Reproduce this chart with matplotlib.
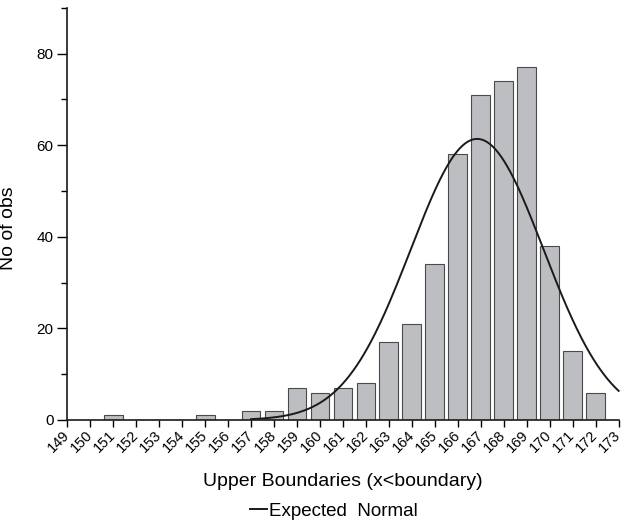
import numpy as np
import matplotlib
matplotlib.use("Agg")
import matplotlib.pyplot as plt
from matplotlib.ticker import MultipleLocator
from matplotlib.transforms import ScaledTranslation

plt.rcParams['font.family'] = ['Liberation Sans', 'DejaVu Sans']

# histogram: upper boundaries and counts
boundaries = [151, 155, 157, 158, 159, 160, 161, 162, 163, 164, 165,
              166, 167, 168, 169, 170, 171, 172]
counts = [1, 1, 2, 2, 7, 6, 7, 8, 17, 21, 34, 58, 71, 74, 77, 38, 15, 6]
tick_labels = list(range(149, 174))

# expected normal from the observed data
b = np.array(boundaries, dtype=float)
c = np.array(counts, dtype=float)
n = c.sum()
mu = (b * c).sum() / n
sd = np.sqrt((c * (b - mu) ** 2).sum() / (n - 1))
xs = np.linspace(157, 173, 300)
ys = n * np.exp(-0.5 * ((xs - mu) / sd) ** 2) / (sd * np.sqrt(2 * np.pi))

fig = plt.figure(figsize=(6.23, 5.24), dpi=100)
ax = fig.add_axes([0.108, 0.1985, 0.885, 0.7865])

ax.bar(boundaries, counts, width=0.82, color='#bdbec2', edgecolor='#4a4a4a',
       linewidth=0.8, zorder=2)
line, = ax.plot(xs, ys, color='#1a1a1a', lw=1.4, zorder=3, clip_on=False)

ax.set_xlim(149, 173)
ax.set_ylim(0, 90)
ax.set_xticks(tick_labels)
ax.set_xticklabels([str(t) for t in tick_labels], rotation=45, ha='right',
                   va='center', rotation_mode='anchor', fontsize=10.5)
# nudge rotated labels a bit left so the last one stays inside
shift = ScaledTranslation(-4.5 / 100, 0, fig.dpi_scale_trans)
for lab in ax.get_xticklabels():
    lab.set_transform(lab.get_transform() + shift)

ax.yaxis.set_major_locator(MultipleLocator(20))
ax.yaxis.set_minor_locator(MultipleLocator(10))
ax.set_yticks([0, 20, 40, 60, 80])
ax.tick_params(axis='y', which='major', length=7, width=1, labelsize=11,
               direction='out', pad=3)
ax.tick_params(axis='y', which='minor', length=4, width=1, direction='out')
ax.tick_params(axis='x', which='major', length=5, width=1, direction='out', pad=4)

for s in ['top', 'right']:
    ax.spines[s].set_visible(False)
for s in ['left', 'bottom']:
    ax.spines[s].set_linewidth(1.2)
    ax.spines[s].set_color('#1a1a1a')

ax.set_ylabel('No of obs', fontsize=14)
ax.yaxis.set_label_coords(-0.091, 0.465)
ax.set_xlabel('Upper Boundaries (x<boundary)', fontsize=14)
ax.xaxis.set_label_coords(0.5, -0.128)

fig.legend([line], ['Expected  Normal'], loc='center',
           bbox_to_anchor=(0.536, 0.024), frameon=False, fontsize=13.5,
           handlelength=0.9, handletextpad=0.15, borderpad=0.1)

fig.savefig('out.png', dpi=100)
